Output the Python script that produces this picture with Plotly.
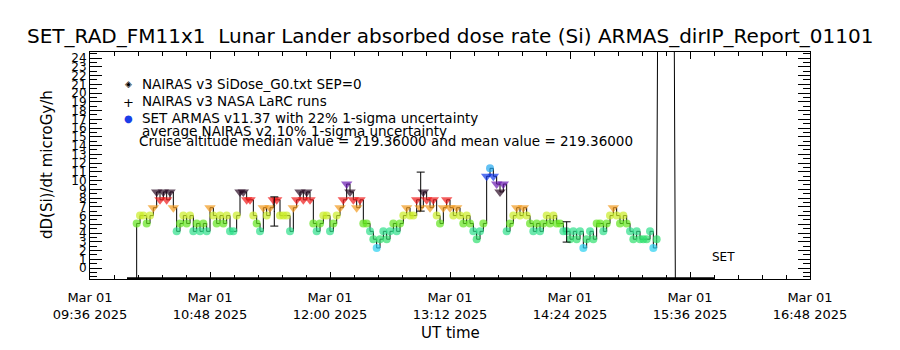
import pandas as pd
import plotly.graph_objects as go

# ---------------- data ----------------
DOSE_START = "2025-03-01 10:04:00"     # first SET ARMAS point, 2-minute cadence
DOSE_VALUES = [
    5.1, 6.0, 6.0, 5.1, 6.0, 6.9, 8.7, 7.8, 8.7, 7.8,
    8.7, 6.9, 4.2, 5.1, 6.0, 5.1, 6.0, 4.2, 5.1, 4.2,
    5.1, 4.2, 6.9, 6.0, 5.1, 6.0, 5.1, 6.0, 4.2, 4.2,
    6.0, 8.7, 8.7, 7.8, 7.8, 6.0, 5.1, 4.2, 6.9, 6.0, 6.9, 7.8, 7.8, 6.0, 6.0, 6.0, 4.2, 6.9, 7.8, 8.7, 7.8, 8.7, 7.8,
    5.1, 4.2, 5.1, 6.0, 6.0, 4.2, 5.1, 6.0,
    6.9, 7.8, 9.6, 8.7, 7.8, 6.9, 7.8, 5.1,
    5.1, 4.2, 3.3, 2.3, 3.3, 4.2, 3.3, 4.2, 5.1, 4.2, 5.1, 6.0,
    6.9, 6.0, 6.0, 7.8, 6.9, 8.7, 7.8, 6.9, 7.8, 6.0,
    5.1, 6.9, 7.8, 6.9,
    6.0, 6.9, 6.0, 5.1, 6.0, 5.1, 4.2, 3.3, 4.2, 5.1,
    10.5, 11.4, 10.5, 9.6, 8.7, 9.6,
    4.2, 5.1, 6.0, 6.9, 6.0, 6.9, 6.0,
    5.1, 4.2, 5.1, 4.2, 5.1, 6.0, 5.1, 6.0, 5.1, 5.1,
    4.2, 4.2, 3.3, 4.2, 3.3, 4.2, 2.3, 3.3, 4.2, 3.3,
    5.1, 5.1, 4.2, 5.1, 6.0, 6.9, 6.0, 5.1, 6.0, 5.1,
    4.2, 3.3, 4.2, 3.3, 3.3, 3.3, 4.2, 2.3, 3.3,
]
FLOOR = -1.2                                   # zero-level records (drawn on the floor)
LEAD_TIMES = ["2025-03-01 09:58:12", "2025-03-01 10:04:00"]
LEAD_VALUES = [FLOOR, FLOOR]
TAIL_TIMES = ["2025-03-01 15:21:36", "2025-03-01 15:27:12"]
TAIL_VALUES = [239.0, FLOOR]
SET_TIMES = ["2025-03-01 09:58:12", "2025-03-01 15:51:00"]
SET_VALUES = [FLOOR, FLOOR]
NAIRAS_TIMES = ["2025-03-01 11:26:35", "2025-03-01 12:54:25", "2025-03-01 14:22:00"]
NAIRAS_VALUES = [6.47, 8.74, 4.13]
NAIRAS_ERR = [1.67, 2.23, 1.16]

Y_TICKS = list(range(0, 25))
X_RANGE = ["2025-03-01 09:36:00", "2025-03-01 16:48:00"]

LEVEL_BASE, LEVEL_STEP = 2.3, 0.91
LEVEL_COLORS = ["#26d0f0", "#2fe06e", "#2edf8a", "#62e41e", "#cbec26", "#f29a1c",
                "#f01818", "#2a0a24", "#6a18b0", "#1038e8", "#22a8f0"]

# ---------------- build ----------------
dose_times = pd.date_range(DOSE_START, periods=len(DOSE_VALUES), freq="2min")

def level(v):
    i = int(round((v - LEVEL_BASE) / LEVEL_STEP))
    return max(0, min(len(LEVEL_COLORS) - 1, i))

colors = [LEVEL_COLORS[level(v)] for v in DOSE_VALUES]
symbols = ["triangle-down" if 5 <= level(v) <= 9 else "circle" for v in DOSE_VALUES]
sizes = [10 if s == "triangle-down" else 8 for s in symbols]

step_x = list(pd.to_datetime(LEAD_TIMES)) + list(dose_times)
step_y = LEAD_VALUES + DOSE_VALUES
tail_x = [dose_times[-1]] + list(pd.to_datetime(TAIL_TIMES))
tail_y = [DOSE_VALUES[-1]] + TAIL_VALUES

FONT = "DejaVu Sans"
fig = go.Figure()
fig.add_trace(go.Scatter(x=SET_TIMES, y=SET_VALUES, mode="lines",
                         line=dict(color="black", width=2.5), hoverinfo="skip"))
fig.add_trace(go.Scatter(x=step_x, y=step_y, mode="lines",
                         line=dict(color="black", width=1, shape="hv"), hoverinfo="skip"))
fig.add_trace(go.Scatter(x=tail_x, y=tail_y, mode="lines",
                         line=dict(color="black", width=1), hoverinfo="skip"))
fig.add_trace(go.Scatter(x=dose_times, y=DOSE_VALUES, mode="markers",
                         marker=dict(color=colors, symbol=symbols, size=sizes, line=dict(width=0))))
fig.add_trace(go.Scatter(x=NAIRAS_TIMES, y=NAIRAS_VALUES, mode="markers",
                         marker=dict(color="black", size=1),
                         error_y=dict(type="data", array=NAIRAS_ERR, color="black",
                                      thickness=1, width=4)))

L, R, T, B = 90, 810, 52, 279
def px(x):
    return (x - L) / (R - L)
def py(y):
    return (B - y) / (B - T)

ann = []
def text(x, y, s, size=12, xanchor="left", angle=0, color="black"):
    ann.append(dict(x=px(x), y=py(y), xref="paper", yref="paper", text=s, showarrow=False,
                    xanchor=xanchor, yanchor="middle", textangle=angle,
                    font=dict(family=FONT, size=size, color=color)))

text(450, 36, "SET_RAD_FM11x1  Lunar Lander absorbed dose rate (Si) ARMAS_dirIP_Report_01101", 20, "center")
text(128, 84, "◈", 9, "center")
text(140, 84, "NAIRAS v3 SiDose_G0.txt SEP=0", 13.5)
text(128, 102, "+", 13, "center")
text(140, 101, "NAIRAS v3 NASA LaRC runs", 13.5)
text(128, 118, "●", 10, "center", color="#1a3ee8")
text(140, 118, "SET ARMAS v11.37 with 22% 1-sigma uncertainty", 13.5)
text(140, 131, "average NAIRAS v2 10% 1-sigma uncertainty", 13.5)
text(137, 141, "Cruise altitude median value = 219.36000 and mean value = 219.36000", 13.5)
text(723, 257, "SET", 12, "center")
text(47, 165, "dD(Si)/dt microGy/h", 15, "center", -90)
text(450, 333, "UT time", 15, "center")

fig.update_layout(
    width=900, height=350, margin=dict(l=L, r=900 - R, t=T, b=350 - B),
    paper_bgcolor="white", plot_bgcolor="white", showlegend=False,
    font=dict(family=FONT, color="black"),
    annotations=ann,
)
fig.update_xaxes(
    type="date", range=X_RANGE, tick0=X_RANGE[0], dtick=72 * 60 * 1000,
    tickformat="%b %d<br>%H:%M %Y", tickfont=dict(family=FONT, size=13),
    ticks="inside", ticklen=7, tickcolor="black", showgrid=False, zeroline=False,
    showline=True, linecolor="black", linewidth=1, mirror="allticks",
    ticklabelstandoff=6,
    minor=dict(tick0=X_RANGE[0], dtick=int(14.4 * 60 * 1000), ticks="inside", ticklen=4,
               tickcolor="black", showgrid=False),
)
fig.update_yaxes(
    range=[-1.25, 24.7], tickvals=Y_TICKS, tickfont=dict(family=FONT, size=12),
    ticks="inside", ticklen=12, tickcolor="black", showgrid=False, zeroline=False,
    showline=True, linecolor="black", linewidth=1, mirror="allticks",
    minor=dict(dtick=0.5, tick0=0, ticks="inside", ticklen=7, tickcolor="black", showgrid=False),
)

fig.write_html("out.html")
